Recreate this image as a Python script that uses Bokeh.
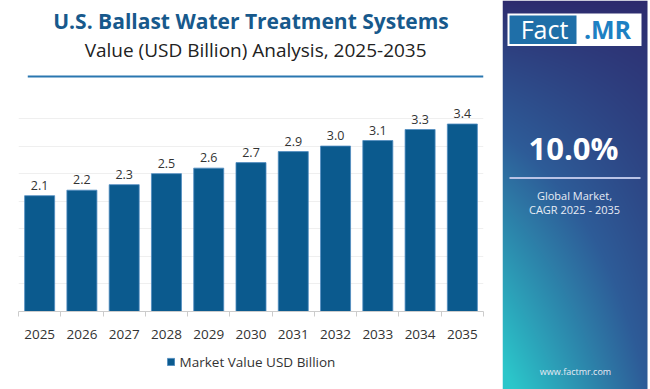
import numpy as np
from bokeh.plotting import figure
from bokeh.models import (Range1d, FixedTicker, Legend,
                          LegendItem, ColumnDataSource, GridBox)
from bokeh.core.properties import value
from bokeh.embed import file_html
from bokeh.resources import INLINE

# ---------------- data ----------------
years = ["2025", "2026", "2027", "2028", "2029", "2030",
         "2031", "2032", "2033", "2034", "2035"]
values = [2.1, 2.2, 2.3, 2.5, 2.6, 2.7, 2.9, 3.0, 3.1, 3.3, 3.4]
value_labels = [f"{v:.1f}" for v in values]
grid_values = [0.5, 1.0, 1.5, 2.0, 2.5, 3.0, 3.5]
series_name = "Market Value USD Billion"
title_text = "U.S. Ballast Water Treatment Systems"
subtitle_text = "Value (USD Billion) Analysis, 2025-2035"
cagr_text = "10.0%"
cagr_caption = ["Global Market,", "CAGR 2025 - 2035"]
site_text = "www.factmr.com"
logo_left = "Fact"
logo_right = ".MR"

FONT = "Open Sans"
BAR = "#0b5a8e"
BAR_EDGE = "#4f8cc0"
BLUE_LINE = "#2a77b0"
TXT = "#333333"

LW = 502          # left column width
HH = 100          # header height
CH = 243          # chart height
LH = 37           # legend strip height
FH = 9            # footer height
PW, PH = 148, 389 # right panel
GW = 145          # gradient width

Y_TOP = 3.5                 # top gridline value
PLOT_PX = 193               # pixels from 0 to Y_TOP
HEAD_PX = 18                # extra room above top gridline for value labels


def bare(fig):
    fig.grid.visible = False
    fig.outline_line_color = None
    return fig


# ---------------- header ----------------
header = bare(figure(width=LW, height=HH, x_range=Range1d(0, LW), y_range=Range1d(HH, 0),
                     toolbar_location=None, output_backend="svg", min_border=0,
                     x_axis_location=None, y_axis_location=None))
header.text(x=[251], y=[20], text=[title_text], text_font=value(FONT),
            text_font_size="21px", text_font_style="bold", text_color="#17598c",
            text_align="center", text_baseline="middle")
header.text(x=[256], y=[49], text=[subtitle_text], text_font=value(FONT),
            text_font_size="19px", text_color="#222222",
            text_align="center", text_baseline="middle")
header.line(x=[10, LW], y=[76, 76], line_color=BLUE_LINE, line_width=2)

# ---------------- chart ----------------
n = len(years)
centers = [i + 0.5 for i in range(n)]
bounds = list(range(n + 1))
src = ColumnDataSource(dict(x=centers, top=values, lab=value_labels))

y_end = Y_TOP * (PLOT_PX + HEAD_PX) / PLOT_PX
chart = figure(width=LW, height=CH, x_range=Range1d(0, n), y_range=Range1d(0, y_end),
               toolbar_location=None, output_backend="svg",
               min_border_left=15, min_border_right=19, min_border_top=0,
               min_border_bottom=32)
chart.outline_line_color = None
chart.xgrid.visible = False
chart.yaxis.visible = False
chart.ygrid.ticker = FixedTicker(ticks=grid_values)
chart.ygrid.grid_line_color = "#efefef"
chart.ygrid.grid_line_width = 1

r = chart.vbar(x="x", top="top", width=0.71, source=src, fill_color=BAR,
               line_color=BAR_EDGE, line_width=0.8)
chart.text(x="x", y="top", text="lab", source=src, text_font=value(FONT),
           text_font_size="12.5px", text_color=TXT, text_align="center",
           text_baseline="bottom", y_offset=-6)

ax = chart.xaxis[0]
ax.ticker = FixedTicker(ticks=centers, minor_ticks=bounds)
ax.major_label_overrides = {c: y for c, y in zip(centers, years)}
ax.axis_line_color = "#cccccc"
ax.major_tick_line_color = None
ax.major_tick_out = 0
ax.major_tick_in = 0
ax.minor_tick_line_color = "#cccccc"
ax.minor_tick_out = 5
ax.minor_tick_in = 0
ax.major_label_standoff = 13
ax.major_label_text_font = FONT
ax.major_label_text_font_size = "13.5px"
ax.major_label_text_color = TXT

# ---------------- legend strip ----------------
leg_fig = bare(figure(width=LW, height=LH, x_range=Range1d(0, 1), y_range=Range1d(0, 1),
                      toolbar_location=None, output_backend="svg", min_border=0,
                      min_border_left=18, x_axis_location=None, y_axis_location=None))
# a swatch-only renderer (placed outside the visible range) for the legend key
leg_src = ColumnDataSource(dict(x=[-5.0], top=[0.0]))
leg_r = leg_fig.vbar(x="x", top="top", width=0.5, source=leg_src, fill_color=BAR,
                     line_color=BAR_EDGE, line_width=0.8)
legend = Legend(items=[LegendItem(label=series_name, renderers=[leg_r])],
                location="center", orientation="horizontal",
                border_line_color=None, background_fill_alpha=0,
                glyph_width=9, glyph_height=9, label_height=16,
                label_standoff=5, padding=4, margin=0,
                label_text_font=FONT, label_text_font_size="13.5px",
                label_text_color=TXT)
leg_fig.add_layout(legend, "center")

# ---------------- footer line ----------------
footer = bare(figure(width=LW, height=FH, x_range=Range1d(0, LW), y_range=Range1d(FH, 0),
                     toolbar_location=None, output_backend="svg", min_border=0,
                     x_axis_location=None, y_axis_location=None))
footer.line(x=[17, LW], y=[7.5, 7.5], line_color=BLUE_LINE, line_width=2.5)

# ---------------- right panel ----------------
panel = bare(figure(width=PW, height=PH, x_range=Range1d(0, PW), y_range=Range1d(0, PH),
                    toolbar_location=None, output_backend="svg", min_border=0,
                    x_axis_location=None, y_axis_location=None))

stops_t = np.array([0.0, 0.5, 1.0])
stops_c = np.array([[45, 36, 104], [46, 92, 152], [43, 198, 202]], dtype=float)
jj, ii = np.mgrid[0:PH, 0:GW]
u = 1.0 - (jj + 0.5) / PH      # 0 at top, 1 at bottom
v = (ii + 0.5) / GW            # 0 left, 1 right
s = np.clip(u ** 0.75 * (1 - 0.55 * v) + 0.05, 0, 1)
img = np.empty((PH, GW), dtype=np.uint32)
view = img.view(dtype=np.uint8).reshape((PH, GW, 4))
for k in range(3):
    view[:, :, k] = np.interp(s, stops_t, stops_c[:, k]).astype(np.uint8)
view[:, :, 3] = 255
panel.image_rgba(image=[img], x=0, y=0, dw=GW, dh=PH)


def Y(top):
    return PH - top


panel.quad(left=[5], right=[139], top=[Y(13)], bottom=[Y(45.5)], fill_color="white",
           line_color=None)
panel.quad(left=[7], right=[74], top=[Y(15)], bottom=[Y(43.5)], fill_color="#1f6fa8",
           line_color=None)
panel.text(x=[42], y=[Y(28)], text=[logo_left], text_font=value(FONT),
           text_font_size="25px", text_color="white", text_align="center",
           text_baseline="middle")
panel.text(x=[105], y=[Y(28)], text=[logo_right], text_font=value(FONT),
           text_font_size="25px", text_font_style="bold", text_color="#1d80c3",
           text_align="center", text_baseline="middle")
panel.text(x=[71], y=[Y(147)], text=[cagr_text], text_font=value(FONT),
           text_font_size="31px", text_font_style="bold", text_color="white",
           text_align="center", text_baseline="middle")
panel.line(x=[7, 138], y=[Y(177.5), Y(177.5)], line_color="#b9c3e6", line_width=2)
panel.text(x=[72, 72], y=[Y(195), Y(208.5)], text=cagr_caption, text_font=value(FONT),
           text_font_size="11px", text_color="#e8ecf5", text_align="center",
           text_baseline="middle")
panel.text(x=[73], y=[Y(371)], text=[site_text], text_font=value(FONT),
           text_font_size="9px", text_color="#e8ecf5", text_align="center",
           text_baseline="middle")

layout = GridBox(children=[(header, 0, 0), (chart, 1, 0), (leg_fig, 2, 0),
                           (footer, 3, 0), (panel, 0, 1, 4, 1)], spacing=0)
open("out.html", "w").write(file_html(layout, INLINE))
